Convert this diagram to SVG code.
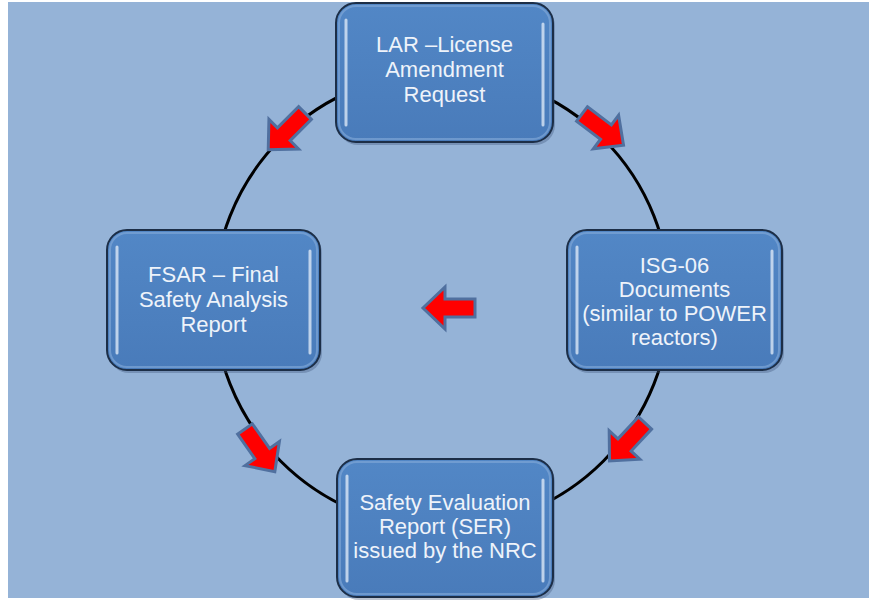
<svg xmlns="http://www.w3.org/2000/svg" width="869" height="600" viewBox="0 0 869 600">
<defs>
<style>
.bg{fill:#95b3d7}
.box{fill:url(#boxg);stroke:#1c2e47;stroke-width:2}
.bevel{fill:none;stroke:#7ea5d6;stroke-width:2;opacity:0.7}
.shadow{fill:#3c5478;opacity:0.35}
.hl{stroke:#e4eefa;stroke-width:3;stroke-linecap:round;opacity:0.75}
.lbl{font-family:"Liberation Sans",Arial,sans-serif;font-size:22px;fill:#eef3fa;text-anchor:middle}
.ring{fill:none;stroke:#000;stroke-width:3}
.arr{fill:#ff0000;stroke:#50709f;stroke-width:3;stroke-linejoin:miter}
</style>
<linearGradient id="boxg" x1="0" y1="0" x2="0" y2="1">
<stop offset="0" stop-color="#5287c6"/>
<stop offset="1" stop-color="#497bba"/>
</linearGradient>
<path id="ar" d="M0,-9 H30 V-21 L52,0 L30,21 V9 H0 Z"/>
</defs>
<rect x="8" y="2" width="861" height="596" class="bg"/>
<g id="connectors">
<circle cx="442" cy="300" r="228" class="ring"/>
<use href="#ar" class="arr" transform="translate(582,114) rotate(37)"/>
<use href="#ar" class="arr" transform="translate(305,113) rotate(135)"/>
<use href="#ar" class="arr" transform="translate(645,423) rotate(133)"/>
<use href="#ar" class="arr" transform="translate(245,429) rotate(55)"/>
<use href="#ar" class="arr" transform="translate(475,308) rotate(180)"/>
</g>
<g id="node-lar">
<rect x="338" y="6" width="217" height="139" rx="20" class="shadow"/>
<rect x="336" y="3" width="217" height="139" rx="20" class="box"/>
<rect x="339" y="6" width="211" height="133" rx="17" class="bevel"/>
<line x1="346" y1="20" x2="346" y2="125" class="hl"/>
<line x1="543" y1="24" x2="543" y2="125" class="hl"/>
<text class="lbl"><tspan x="444.5" y="52">LAR –License</tspan><tspan x="444.5" y="77">Amendment</tspan><tspan x="444.5" y="102">Request</tspan></text>
</g>
<g id="node-isg">
<rect x="569" y="233" width="215" height="140" rx="20" class="shadow"/>
<rect x="567" y="230" width="215" height="140" rx="20" class="box"/>
<rect x="570" y="233" width="209" height="134" rx="17" class="bevel"/>
<line x1="577" y1="247" x2="577" y2="353" class="hl"/>
<line x1="772" y1="251" x2="772" y2="353" class="hl"/>
<text class="lbl"><tspan x="674.5" y="273">ISG-06</tspan><tspan x="674.5" y="297">Documents</tspan><tspan x="674.5" y="321">(similar to POWER</tspan><tspan x="674.5" y="345">reactors)</tspan></text>
</g>
<g id="node-ser">
<rect x="339" y="462" width="216" height="138" rx="20" class="shadow"/>
<rect x="337" y="459" width="216" height="138" rx="20" class="box"/>
<rect x="340" y="462" width="210" height="132" rx="17" class="bevel"/>
<line x1="347" y1="476" x2="347" y2="581" class="hl"/>
<line x1="543" y1="480" x2="543" y2="581" class="hl"/>
<text class="lbl"><tspan x="445" y="510">Safety Evaluation</tspan><tspan x="445" y="534">Report (SER)</tspan><tspan x="445" y="558">issued by the NRC</tspan></text>
</g>
<g id="node-fsar">
<rect x="109" y="233" width="213" height="140" rx="20" class="shadow"/>
<rect x="107" y="230" width="213" height="140" rx="20" class="box"/>
<rect x="110" y="233" width="207" height="134" rx="17" class="bevel"/>
<line x1="117" y1="247" x2="117" y2="353" class="hl"/>
<line x1="310" y1="251" x2="310" y2="353" class="hl"/>
<text class="lbl"><tspan x="213.5" y="282">FSAR – Final</tspan><tspan x="213.5" y="307">Safety Analysis</tspan><tspan x="213.5" y="332">Report</tspan></text>
</g>
</svg>
